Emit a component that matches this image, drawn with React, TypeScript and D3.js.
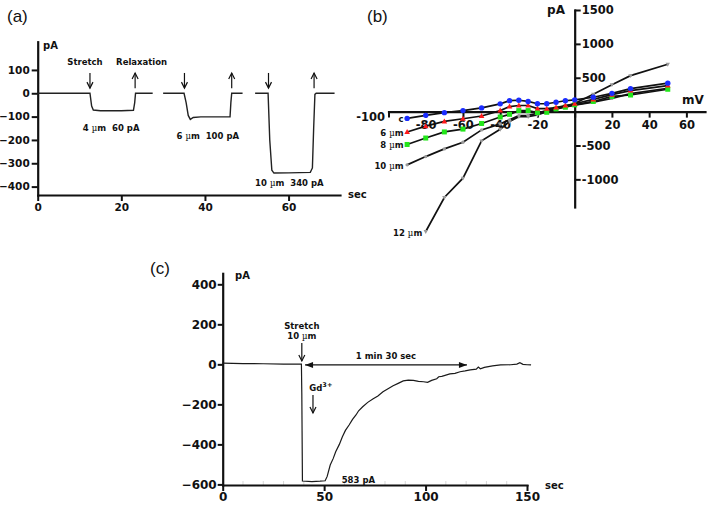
import React, { useEffect, useRef } from 'react';
import * as d3 from 'd3';

// (a) whole-cell current during three stretch steps, [time s, current pA]
const stepTrace1: [number, number][] = [[0, 0], [12.5, 0], [12.9, -55], [13.3, -72], [15, -75], [20, -75], [22.9, -73], [23.2, -40], [23.4, 0], [27.5, 0]];
const stepTrace2: [number, number][] = [[30, 0], [35, 0], [35.5, -40], [36, -95], [36.5, -112], [37.2, -104], [39, -101], [46, -101], [46.2, -40], [46.4, 0], [49, 0]];
const stepTrace3: [number, number][] = [[52, 0], [55.1, 0], [55.5, -200], [56, -330], [56.5, -342], [60, -341], [65.2, -339], [65.7, -320], [66, -150], [66.3, -5], [66.6, 0], [71, 0]];
const stretchTimes = [12.5, 35.1, 55.2];
const relaxTimes = [23.3, 46.4, 66.1];
const stepLabels = ['4 µm  60 pA', '6 µm  100 pA', '10 µm  340 pA'];
const stepLabelAt: [number, number][] = [[10.8, -160], [33.2, -195], [52, -396]];

// (b) I-V relation at increasing stretch
const ivVoltage = [-90, -80, -70, -60, -50, -40, -35, -30, -25, -20, -15, -10, -5, 0, 10, 20, 30, 50];
const ivControl = [-100, -55, -15, 15, 55, 115, 162, 168, 150, 116, 116, 138, 160, 174, 212, 270, 340, 420];
const iv6um = [-300, -215, -145, -105, -65, 15, 75, 90, 90, 45, 43, 60, 90, 116, 180, 250, 310, 385];
const iv8um = [-485, -390, -300, -258, -175, -80, -40, 15, 15, -15, -10, 40, 65, 100, 150, 225, 245, 330];
const iv10um = [-786, -664, -550, -452, -270, -181, -122, -59, -55, -24, 20, 55, 75, 95, 140, 195, 265, 345];
const iv12um = [NaN, -1770, -1268, -982, -432, -260, -147, -74, -74, -49, 0, 40, 80, 120, 256, 398, 531, 699];
const ivNames = ['c', '6 µm', '8 µm', '10 µm', '12 µm'];
const ivColors = ['#1a2cff', '#ff1a1a', '#22e61a', '#9a9a9a', '#9a9a9a'];
const ivShapes = ['circle', 'triangle', 'square', 'circle', 'triangleDown'];

// (c) stretch 10 µm then Gd3+
const gdTrace: [number, number][] = [
  [0, 6], [10, 4], [20, 3], [30, 1], [38.8, 1], [39, -150], [39.3, -583], [44, -586], [48, -584], [50.5, -582],
  [51.5, -560], [53, -503], [54.5, -470], [55.7, -437], [57.5, -400], [59, -362], [60.5, -330], [62.3, -303],
  [64, -275], [65.7, -253], [67, -232], [69, -212], [71.5, -190], [74, -173], [76.5, -158], [79, -137],
  [81.5, -122], [84, -107], [86.5, -95], [89, -83], [91.5, -79], [94, -80], [96.5, -85], [99, -87], [101, -90],
  [103, -80], [105.5, -72], [106.5, -62], [108, -60], [112, -48], [114.5, -45], [117, -37], [119.5, -33],
  [122, -28], [125, -24], [126, -14], [127, -22], [129, -15], [133, -8], [137, -3], [142, -2], [145, 1],
  [146.5, 8], [148, 0], [150, -2], [152, -3],
];
const stretchTimeC = 39;
const gdTime = 44.5;
const spanStart = 40.6;
const spanEnd = 120.4;

const FONT = '"DejaVu Sans", Verdana, sans-serif';
const INK = '#111';

const addText = (g: any, x: number, y: number, str: string, size: number, anchor = 'start', weight = 'bold') => {
  const t = g.append('text')
    .attr('x', x).attr('y', y)
    .attr('font-size', size).attr('font-family', FONT).attr('font-weight', weight)
    .attr('text-anchor', anchor).attr('fill', INK)
    .style('white-space', 'pre');
  str.split(/(µ)/).forEach((p) => {
    if (!p) return;
    const s = t.append('tspan').text(p);
    if (p === 'µ') s.attr('font-weight', 'normal').attr('font-family', '"DejaVu Serif", serif');
  });
  return t;
};

// vertical arrow with an open V head at y2
const vArrow = (g: any, x: number, y1: number, y2: number) => {
  const dir = y2 > y1 ? 1 : -1;
  g.append('line').attr('x1', x).attr('x2', x).attr('y1', y1).attr('y2', y2)
    .attr('stroke', INK).attr('stroke-width', 1.2);
  g.append('path').attr('d', `M${x - 3},${y2 - dir * 6}L${x},${y2}L${x + 3},${y2 - dir * 6}`)
    .attr('fill', 'none').attr('stroke', INK).attr('stroke-width', 1.2);
};

const styleAxis = (sel: any, size: number) => {
  sel.attr('font-size', null).attr('font-family', null);
  sel.select('.domain').attr('stroke', INK).attr('stroke-width', 2.2).attr('stroke-linecap', 'square');
  sel.selectAll('.tick line').attr('stroke', INK).attr('stroke-width', 2);
  sel.selectAll('.tick text').attr('font-size', size).attr('font-family', FONT)
    .attr('font-weight', 'bold').attr('fill', INK);
};

const Figure: React.FC = () => {
  const svgRef = useRef<SVGSVGElement>(null);

  useEffect(() => {
    const svg = d3.select(svgRef.current);
    svg.selectAll('*').remove();

    // panel letters
    const letters: [string, number, number][] = [['(a)', 7, 22], ['(b)', 367, 22], ['(c)', 150, 274]];
    letters.forEach(([s, x, y]) => {
      svg.append('text').attr('x', x).attr('y', y).attr('font-size', 17)
        .attr('font-family', '"Liberation Sans", Arial, sans-serif').attr('fill', INK).text(s);
    });

    // ---------- (a) ----------
    const xA = d3.scaleLinear().domain([0, 72.3]).range([37.7, 340]);
    const yA = d3.scaleLinear().domain([-436, 221]).range([195, 41.7]);
    const ga = svg.append('g');
    const axA = ga.append('g').attr('transform', `translate(0,${yA(-436)})`)
      .call(d3.axisBottom(xA).tickValues([0, 20, 40, 60]).tickSize(6).tickSizeOuter(0).tickPadding(3));
    styleAxis(axA, 10.5);
    const ayA = ga.append('g').attr('transform', `translate(${xA(0)},0)`)
      .call(d3.axisLeft(yA).tickValues([100, 0, -100, -200, -300, -400]).tickSize(6).tickSizeOuter(0).tickPadding(2));
    styleAxis(ayA, 10.5);

    const lineA = d3.line<[number, number]>().x((d) => xA(d[0])).y((d) => yA(d[1]));
    [stepTrace1, stepTrace2, stepTrace3].forEach((tr) => {
      ga.append('path').attr('d', lineA(tr)).attr('fill', 'none')
        .attr('stroke', '#222').attr('stroke-width', 1.4);
    });
    stretchTimes.forEach((t) => vArrow(ga, xA(t), yA(87), yA(22)));
    relaxTimes.forEach((t) => vArrow(ga, xA(t), yA(22), yA(87)));
    addText(ga, xA(stretchTimes[0]) - 5, 65, 'Stretch', 8.5, 'middle');
    addText(ga, xA(relaxTimes[0]) + 6.5, 65, 'Relaxation', 8.5, 'middle');
    stepLabels.forEach((s, i) => addText(ga, xA(stepLabelAt[i][0]), yA(stepLabelAt[i][1]), s, 8.5));
    addText(ga, 43, 49, 'pA', 10);
    addText(ga, 348, 198, 'sec', 10);

    // ---------- (b) ----------
    const xB = d3.scaleLinear().domain([-100, 70]).range([388.5, 705]);
    const yB = d3.scaleLinear().domain([-1408, 1500]).range([207, 10]);
    const gb = svg.append('g');
    const axB = gb.append('g').attr('transform', `translate(0,${yB(0)})`)
      .call(d3.axisBottom(xB).tickValues([-100, -80, -60, -40, -20, 0, 20, 40, 60])
        .tickFormat((d: any) => (d === -100 || d === 0 ? '' : String(d)))
        .tickSize(6).tickSizeOuter(0).tickPadding(3));
    styleAxis(axB, 11.5);
    const ayB = gb.append('g').attr('transform', `translate(${xB(0)},0)`)
      .call(d3.axisRight(yB).tickValues([1500, 1000, 500, -500, -1000]).tickFormat((d: any) => String(d))
        .tickSize(6).tickSizeOuter(0).tickPadding(1));
    styleAxis(ayB, 11.5);
    addText(gb, 385, yB(0) + 9, '-100', 11.5, 'end');
    addText(gb, 556, 14, 'pA', 12, 'middle');
    addText(gb, 693, 104, 'mV', 12, 'middle');

    const ivSeries = [ivControl, iv6um, iv8um, iv10um, iv12um];
    const lineB = d3.line<number>()
      .defined((d) => !Number.isNaN(d))
      .x((_, i) => xB(ivVoltage[i]))
      .y((d) => yB(d));
    const drawOrder = [4, 3, 2, 1, 0];
    drawOrder.forEach((k) => {
      const vals = ivSeries[k];
      gb.append('path').attr('d', lineB(vals)).attr('fill', 'none')
        .attr('stroke', INK).attr('stroke-width', 1.7);
      vals.forEach((v, i) => {
        if (Number.isNaN(v)) return;
        const cx = xB(ivVoltage[i]);
        const cy = yB(v);
        const shape = ivShapes[k];
        const col = ivColors[k];
        const small = k >= 3;
        if (shape === 'circle') {
          gb.append('circle').attr('cx', cx).attr('cy', cy).attr('r', small ? 1.7 : 2.7).attr('fill', col);
        } else if (shape === 'square') {
          gb.append('rect').attr('x', cx - 2.5).attr('y', cy - 2.5).attr('width', 5).attr('height', 5).attr('fill', col);
        } else if (shape === 'triangle') {
          gb.append('path').attr('d', `M${cx},${cy - 3}L${cx + 2.8},${cy + 2}L${cx - 2.8},${cy + 2}Z`).attr('fill', col);
        } else {
          gb.append('path').attr('d', `M${cx},${cy + 2.4}L${cx + 2.2},${cy - 1.5}L${cx - 2.2},${cy - 1.5}Z`).attr('fill', col);
        }
      });
      const first = vals.findIndex((v) => !Number.isNaN(v));
      addText(gb, xB(ivVoltage[first]) - 3.5, yB(vals[first]) + 4, ivNames[k], 8.5, 'end');
    });

    // ---------- (c) ----------
    const xC = d3.scaleLinear().domain([0, 150]).range([222.7, 527]);
    const yC = d3.scaleLinear().domain([-603, 455]).range([485, 273.3]);
    const gc = svg.append('g');
    d3.range(10, 150, 10).filter((t) => t % 50 !== 0).forEach((t) => {
      gc.append('line').attr('x1', xC(t)).attr('x2', xC(t)).attr('y1', yC(-603) - 4).attr('y2', yC(-603))
        .attr('stroke', '#d8d8d8').attr('stroke-width', 1);
    });
    const axC = gc.append('g').attr('transform', `translate(0,${yC(-603)})`)
      .call(d3.axisBottom(xC).tickValues([0, 50, 100, 150]).tickSize(6).tickSizeOuter(0).tickPadding(1));
    styleAxis(axC, 12);
    const ayC = gc.append('g').attr('transform', `translate(${xC(0)},0)`)
      .call(d3.axisLeft(yC).tickValues([400, 200, 0, -200, -400, -600]).tickSize(5).tickSizeOuter(0).tickPadding(1));
    styleAxis(ayC, 12);

    const lineC = d3.line<[number, number]>().x((d) => xC(d[0])).y((d) => yC(d[1]));
    gc.append('path').attr('d', lineC(gdTrace)).attr('fill', 'none')
      .attr('stroke', '#1a1a1a').attr('stroke-width', 1.2);

    addText(gc, 235, 279, 'pA', 10);
    addText(gc, 545, 489, 'sec', 10);
    addText(gc, xC(stretchTimeC), 328.5, 'Stretch', 8.5, 'middle');
    addText(gc, xC(stretchTimeC), 338.5, '10 µm', 8.5, 'middle');
    vArrow(gc, xC(stretchTimeC), 343, 361);

    // 1 min 30 sec double arrow
    const ay = yC(-3);
    const x1 = xC(spanStart);
    const x2 = xC(spanEnd);
    gc.append('line').attr('x1', x1).attr('x2', x2).attr('y1', ay).attr('y2', ay)
      .attr('stroke', INK).attr('stroke-width', 1.2);
    gc.append('path').attr('d', `M${x1},${ay}L${x1 + 8},${ay - 3}L${x1 + 8},${ay + 3}Z`).attr('fill', INK);
    gc.append('path').attr('d', `M${x2},${ay}L${x2 - 8},${ay - 3}L${x2 - 8},${ay + 3}Z`).attr('fill', INK);
    addText(gc, (x1 + x2) / 2, 359, '1 min 30 sec', 8.5, 'middle');

    const gd = addText(gc, 309.3, 391, 'Gd', 8.5);
    gd.append('tspan').attr('font-size', 6.5).attr('dy', -4).text('3+');
    vArrow(gc, xC(gdTime), 395, 413);
    addText(gc, 341.7, 482.5, '583 pA', 8.5);
  }, []);

  return (
    <svg
      ref={svgRef}
      width={709}
      height={513}
      style={{ position: 'absolute', left: 0, top: 0, background: '#fff' }}
    />
  );
};

export default function App() {
  return <Figure />;
}
